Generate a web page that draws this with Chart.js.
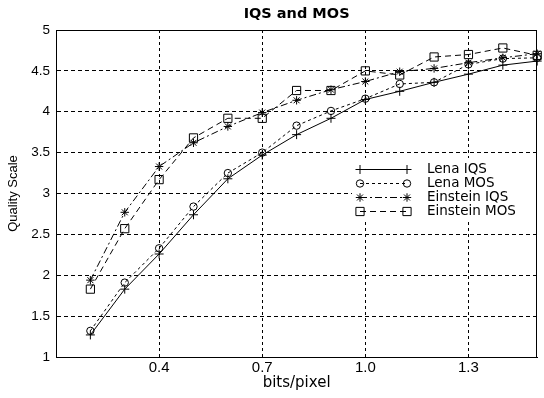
<!DOCTYPE html>
<html>
<head>
<meta charset="utf-8">
<script src="https://cdn.jsdelivr.net/npm/chart.js@4.4.0/dist/chart.umd.min.js"></script>
<style>
  html, body { margin: 0; padding: 0; background: #fff; }
  #wrap { width: 544px; height: 398px; }
</style>
</head>
<body>
<div id="wrap"><canvas id="qualityChart"></canvas></div>
<script>
  // Values
  const bitsPerPixel = [0.2, 0.3, 0.4, 0.5, 0.6, 0.7, 0.8, 0.9, 1.0, 1.1, 1.2, 1.3, 1.4, 1.5];
  const lenaIQS     = [1.27, 1.83, 2.26, 2.74, 3.18, 3.47, 3.72, 3.92, 4.15, 4.25, 4.36, 4.46, 4.57, 4.62];
  const lenaMOS     = [1.32, 1.91, 2.33, 2.84, 3.25, 3.50, 3.83, 4.01, 4.16, 4.34, 4.36, 4.58, 4.65, 4.66];
  const einsteinIQS = [1.94, 2.77, 3.33, 3.62, 3.82, 3.99, 4.14, 4.27, 4.37, 4.49, 4.53, 4.60, 4.66, 4.71];
  const einsteinMOS = [1.83, 2.57, 3.17, 3.68, 3.92, 3.92, 4.26, 4.26, 4.50, 4.45, 4.67, 4.70, 4.78, 4.69];
  const seriesNames = ['Lena IQS', 'Lena MOS', 'Einstein IQS', 'Einstein MOS'];
  const xTickValues = [0.4, 0.7, 1.0, 1.3];

  const toPoints = vals => vals.map((v, i) => ({ x: bitsPerPixel[i], y: v }));

  Chart.defaults.font.family = '"Liberation Sans", Arial, sans-serif';
  Chart.defaults.color = '#000';

  // Solid box around the plot area
  const framePlugin = {
    id: 'frame',
    afterDraw(chart) {
      const { ctx, chartArea: a } = chart;
      ctx.save();
      ctx.strokeStyle = '#000';
      ctx.lineWidth = 1;
      ctx.setLineDash([]);
      ctx.strokeRect(Math.round(a.left) + 0.5, Math.round(a.top) + 0.5,
        Math.round(a.right - a.left) - 1, Math.round(a.bottom - a.top));
      ctx.restore();
    }
  };

  // Legend drawn inside the plot, MATLAB style
  const insideLegend = {
    id: 'insideLegend',
    afterDatasetsDraw(chart) {
      const ctx = chart.ctx;
      ctx.save();
      ctx.fillStyle = '#fff';
      ctx.fillRect(352, 158, 187, 64);
      chart.data.datasets.forEach((ds, i) => {
        const y = 169.5 + i * 14;
        ctx.strokeStyle = '#000';
        ctx.lineWidth = 1;
        ctx.setLineDash(ds.borderDash || []);
        ctx.beginPath();
        ctx.moveTo(360, y);
        ctx.lineTo(407, y);
        ctx.stroke();
        ctx.setLineDash([]);
        ctx.fillStyle = 'rgba(0,0,0,0)';
        [360, 407].forEach(px => {
          Chart.helpers.drawPoint(ctx, { pointStyle: ds.pointStyle, radius: ds.pointRadius, borderWidth: 1, rotation: 0 }, px, y);
        });
        ctx.fillStyle = '#000';
        ctx.font = '13.5px "DejaVu Sans"';
        ctx.textBaseline = 'middle';
        ctx.textAlign = 'left';
        ctx.fillText(ds.label, 427, y);
      });
      ctx.restore();
    }
  };

  const ctx = document.getElementById('qualityChart').getContext('2d');
  const qualityChart = new Chart(ctx, {
    type: 'line',
    data: {
      datasets: [
        {
          label: seriesNames[0],
          data: toPoints(lenaIQS),
          borderDash: [],
          pointStyle: 'cross',
          pointRadius: 4.5
        },
        {
          label: seriesNames[1],
          data: toPoints(lenaMOS),
          borderDash: [3, 3],
          pointStyle: 'circle',
          pointRadius: 3.7
        },
        {
          label: seriesNames[2],
          data: toPoints(einsteinIQS),
          borderDash: [7, 3, 2, 3],
          pointStyle: 'star',
          pointRadius: 4.2
        },
        {
          label: seriesNames[3],
          data: toPoints(einsteinMOS),
          borderDash: [6, 4],
          pointStyle: 'rect',
          pointRadius: 5.8
        }
      ].map(ds => Object.assign(ds, {
        borderColor: '#000',
        borderWidth: 1,
        pointBorderColor: '#000',
        pointBackgroundColor: 'rgba(0,0,0,0)',
        pointBorderWidth: 1,
        tension: 0,
        fill: false,
        clip: false
      }))
    },
    options: {
      responsive: true,
      maintainAspectRatio: false,
      animation: false,
      layout: { padding: { left: 0, right: 4, top: 0, bottom: 0 } },
      scales: {
        x: {
          type: 'linear',
          min: 0.1,
          max: 1.5,
          afterBuildTicks: scale => { scale.ticks = xTickValues.map(v => ({ value: v })); },
          afterFit: scale => { scale.height = 41; },
          ticks: {
            callback: v => v.toFixed(1),
            font: { size: 15 },
            padding: 2,
            maxRotation: 0
          },
          grid: { color: '#000', lineWidth: 1, drawTicks: false },
          border: { display: true, color: '#000', dash: [3, 3] },
          title: {
            display: true,
            text: 'bits/pixel',
            font: { family: '"DejaVu Sans"', size: 15 },
            padding: { top: 0, bottom: 6 }
          }
        },
        y: {
          min: 1,
          max: 5,
          afterFit: scale => { scale.width = 56; },
          ticks: {
            stepSize: 0.5,
            font: { size: 13.5 },
            padding: 6,
            callback: v => String(Math.round(v * 10) / 10)
          },
          grid: { color: '#000', lineWidth: 1, drawTicks: false },
          border: { display: true, color: '#000', dash: [4, 3] },
          title: {
            display: true,
            text: 'Quality Scale',
            font: { size: 13 },
            padding: { top: 6, bottom: 0 }
          }
        }
      },
      plugins: {
        legend: { display: false },
        tooltip: { enabled: false },
        title: {
          display: true,
          text: 'IQS and MOS',
          fullSize: false,
          color: '#000',
          font: { family: '"DejaVu Sans"', size: 14.5, weight: 'bold' },
          padding: { top: 5.5, bottom: 7.1 }
        }
      }
    },
    plugins: [insideLegend, framePlugin]
  });
</script>
</body>
</html>
